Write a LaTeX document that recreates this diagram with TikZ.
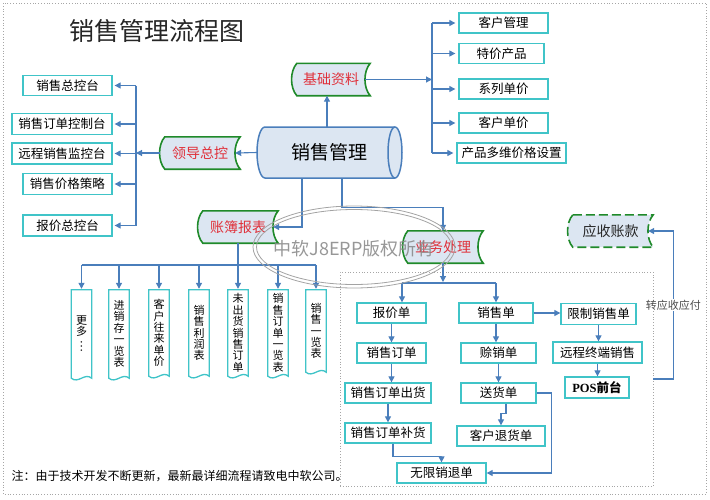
\documentclass[tikz,border=0pt]{standalone}
\usepackage{fontspec}
\setmainfont{Noto Sans CJK SC}
\newfontfamily\lserif{Liberation Serif}
\usetikzlibrary{arrows.meta,calc}
\pgfdeclarelayer{bg}
\pgfsetlayers{bg,main}
\definecolor{boxc}{HTML}{40C4C8}
\definecolor{arrc}{HTML}{4A7EBB}
\definecolor{greenc}{HTML}{1F8A2A}
\definecolor{tapefill}{HTML}{DCE6F2}
\definecolor{redc}{HTML}{E0303A}
\definecolor{wmc}{HTML}{8C8C8C}
\newcommand\fsz[1]{\fontsize{#1}{#1}\selectfont}
\newcommand\mytape[2]{\begin{pgfonlayer}{bg}\path[#1] ([xshift=5pt]#2.north west) -- (#2.north east) .. controls +(-7,8) and +(-7,-8) .. (#2.south east) -- ([xshift=5pt]#2.south west) .. controls +(-7,-8) and +(-7,8) .. cycle;\end{pgfonlayer}}
\newcommand\myvtape[1]{\begin{pgfonlayer}{bg}\path[vtapes] (#1.south west) -- (#1.north west) -- (#1.north east) -- (#1.south east) .. controls +(-7,-6) and +(7,6) .. cycle;\end{pgfonlayer}}
\begin{document}
\begin{tikzpicture}[x=1pt,y=-1pt,
 arr/.style={draw=arrc, line width=1.1pt, -{Triangle[length=6pt,width=6pt]}},
 ln/.style={draw=arrc, line width=1.1pt},
 bx/.style={draw=boxc, line width=1.3pt, fill=white, inner sep=0pt, minimum height=20pt, font=\fsz{12.5}},
 tapen/.style={inner sep=0pt, minimum width=80pt, minimum height=32pt, text=redc, font=\fsz{14}},
 tapes/.style={draw=greenc, line width=1.6pt, fill=tapefill},
 vbx/.style={inner sep=0pt, minimum width=20pt, align=center, font=\fontsize{11}{11.4}\selectfont},
 vtapes/.style={draw=boxc, line width=1.3pt, fill=white},
 frame/.style={draw=gray!70, dotted, line width=0.8pt},
]
\useasboundingbox (0,0) rectangle (710,499);
\draw[frame] (3,3) rectangle (706,494);
\node[font=\fsz{25}, text=black!85] (title) at (157,31) {销售管理流程图};
\node[frame, minimum width=313pt, minimum height=214pt, inner sep=0pt] (inner) at (496.5,379) {};

% cylinder
\begin{pgfonlayer}{bg}
\draw[draw=arrc, line width=1.5pt, fill=tapefill] (265,127) -- (395,127) .. controls (398.9,127) and (402,138.4) .. (402,152.5) .. controls (402,166.6) and (398.9,178) .. (395,178) -- (265,178) .. controls (260.6,178) and (257,166.6) .. (257,152.5) .. controls (257,138.4) and (260.6,127) .. cycle;
\draw[arrc, line width=1.5pt] (395,127) .. controls (391.1,127) and (388,138.4) .. (388,152.5) .. controls (388,166.6) and (391.1,178) .. (395,178);
\end{pgfonlayer}
\node[inner sep=0pt, minimum width=145pt, minimum height=51pt, font=\fsz{19}] (cyl) at (329.5,152.5) {销售管理};

% tapes
\node[tapen, minimum width=78pt] (jc) at (331,79.5) {基础资料};
\node[tapen] (ld) at (200,153) {领导总控};
\node[tapen] (zb) at (238,227) {账簿报表};
\node[tapen] (yw) at (443,247) {业务处理};
\node[tapen, minimum width=85pt, text=black!85] (ys) at (610.5,231) {应收账款};
\mytape{tapes}{jc}
\mytape{tapes}{ld}
\mytape{tapes}{zb}
\mytape{tapes}{yw}
\mytape{tapes,dash pattern=on 9pt off 4pt}{ys}

% left boxes
\node[bx, minimum width=89pt, minimum height=20pt] (lb1) at (67.5,85.5) {销售总控台};
\node[bx, minimum width=100pt, minimum height=21pt] (lb2) at (62,124) {销售订单控制台};
\node[bx, minimum width=100pt, minimum height=21pt] (lb3) at (62,153.5) {远程销售监控台};
\node[bx, minimum width=89pt, minimum height=21pt] (lb4) at (67.5,184) {销售价格策略};
\node[bx, minimum width=89pt, minimum height=21pt] (lb5) at (67.5,225.5) {报价总控台};

% right boxes
\node[bx, minimum width=89pt] (rb1) at (503.5,23) {客户管理};
\node[bx, minimum width=85pt] (rb2) at (501.5,53.5) {特价产品};
\node[bx, minimum width=89pt] (rb3) at (503.5,89) {系列单价};
\node[bx, minimum width=89pt] (rb4) at (503.5,123) {客户单价};
\node[bx, minimum width=109pt] (rb5) at (511.5,153) {产品多维价格设置};

% vertical report tapes
\node[vbx, minimum height=88pt] (v1) at (81.5,334) {更\\多\\\rotatebox[origin=c]{-90}{…}};
\node[vbx, minimum height=88pt] (v2) at (119,334) {进\\销\\存\\一\\览\\表};
\node[vbx, minimum height=86pt] (v3) at (159,333) {客\\户\\往\\来\\单\\价};
\node[vbx, minimum height=86pt] (v4) at (199,333) {销\\售\\利\\润\\表};
\node[vbx, minimum height=86pt] (v5) at (238,333) {未\\出\\货\\销\\售\\订\\单};
\node[vbx, minimum height=86pt] (v6) at (278,333) {销\\售\\订\\单\\一\\览\\表};
\node[vbx, minimum height=82pt] (v7) at (316,331) {销\\售\\一\\览\\表};
\foreach \v in {v1,v2,v3,v4,v5,v6,v7} {\myvtape{\v}}

% business boxes
\node[bx, minimum width=69pt] (q1) at (391.5,313) {报价单};
\node[bx, minimum width=69pt] (q2) at (391.5,353) {销售订单};
\node[bx, minimum width=86pt] (q3) at (388,393) {销售订单出货};
\node[bx, minimum width=86pt] (q4) at (388,433) {销售订单补货};
\node[bx, minimum width=89pt] (q5) at (441.5,473) {无限销退单};
\node[bx, minimum width=74pt] (s1) at (496,313) {销售单};
\node[bx, minimum width=75pt] (s2) at (498.5,353) {赊销单};
\node[bx, minimum width=75pt] (s3) at (498.5,393) {送货单};
\node[bx, minimum width=88pt] (s4) at (501,436) {客户退货单};
\node[bx, minimum width=75pt, minimum height=21pt] (r1) at (598.5,314) {限制销售单};
\node[bx, minimum width=89pt, minimum height=21pt] (r2) at (597.5,352.5) {远程终端销售};
\node[bx, minimum width=64pt, minimum height=21pt] (r3) at (597,387.5) {{\lserif\bfseries POS}\textbf{前台}};

% connectors: top
\coordinate (jcb) at ([xshift=-4pt]jc.south);
\draw[arr] (jcb |- cyl.north) -- (jcb);
\coordinate (busR) at (432,79.5);
\draw[arr] ([xshift=-5pt]jc.east) -- (busR);
\draw[ln] (busR |- rb1.west) -- (busR |- rb5.west);
\foreach \n in {rb1,rb2,rb3,rb4,rb5} {\draw[arr, shorten >=3pt] (busR |- \n.west) -- (\n.west);}

% left
\draw[arr] (cyl.west) -- ([xshift=-5pt]ld.east);
\coordinate (busL) at (136,153);
\draw[arr] (ld.west) -- (busL);
\draw[ln] (busL |- lb1.east) -- (busL |- lb5.east);
\foreach \n in {lb1,lb2,lb3,lb4,lb5} {\draw[arr, shorten >=2pt] (busL |- \n.east) -- (\n.east);}

% bottom of cylinder
\coordinate (cb1) at ([xshift=-27.5pt]cyl.south);
\draw[arr] (cb1) |- ([xshift=-5pt]zb.east);
\coordinate (cb2) at ([xshift=12.5pt]cyl.south);
\draw[arr] (cb2) -- ++(0,29) -| (yw.north);

% reports
\coordinate (busB) at (238,265);
\draw[ln] (zb.south) -- (busB);
\draw[ln] (busB -| v1.north) -- (busB -| v7.north);
\foreach \n in {v1,v2,v3,v4,v5,v6,v7} {\draw[arr, shorten >=1pt] (busB -| \n.north) -- (\n.north);}

% business
\coordinate (busY) at (443,283);
\draw[arr, shorten >=1pt] (yw.south) -- (busY);
\coordinate (q1t) at ([xshift=10.5pt]q1.north);
\draw[ln] (busY -| q1t) -- (busY -| s1.north);
\draw[arr] (busY -| q1t) -- (q1t);
\draw[arr] (busY -| s1.north) -- (s1.north);
\draw[arr] (q1.south) -- (q1.south |- q2.north);
\draw[arr] (q2.south) -- (q2.south |- q3.north);
\draw[arr] (q3.south) -- (q3.south |- q4.north);
\draw[arr] ([xshift=5pt]q4.south) -- ++(0,13) -| (q5.north);
\draw[arr] (s3.east) -- ++(15,0) |- (q5.east);
\draw[arr] (s1.south) -- (s1.south |- s2.north);
\draw[arr] (s2.south) -- (s2.south |- s3.north);
\draw[arr] ([xshift=7.5pt]s3.south) -- ++(0,10) -| (s4.north);
\draw[arr] (s1.east) -- (s1.east -| r1.west);
\draw[arr] (r1.south) -- (r1.south |- r2.north);
\draw[arr] (r2.south) -- (r2.south |- r3.north);
\draw[arr] (inner.east) -- ++(20,0) |- node[pos=0.25, fill=white, inner sep=1pt, text=black!70, font=\fsz{11}] (zl) {转应收应付} ([xshift=-5pt]ys.east);

% footer
\node[anchor=west, font=\fsz{12}] (note) at (8,476) {注：由于技术开发不断更新，最新最详细流程请致电中软公司。};

% watermark
\draw[wmc!80, line width=0.8pt] (354,247) ellipse [x radius=101pt, y radius=41pt];
\draw[wmc!80, line width=0.8pt] (354,247) ellipse [x radius=97.5pt, y radius=37.5pt];
\node[text=wmc, font=\fsz{18}, opacity=0.9] (wm) at (354,249) {中软J8ERP版权所有};
\end{tikzpicture}
\end{document}
